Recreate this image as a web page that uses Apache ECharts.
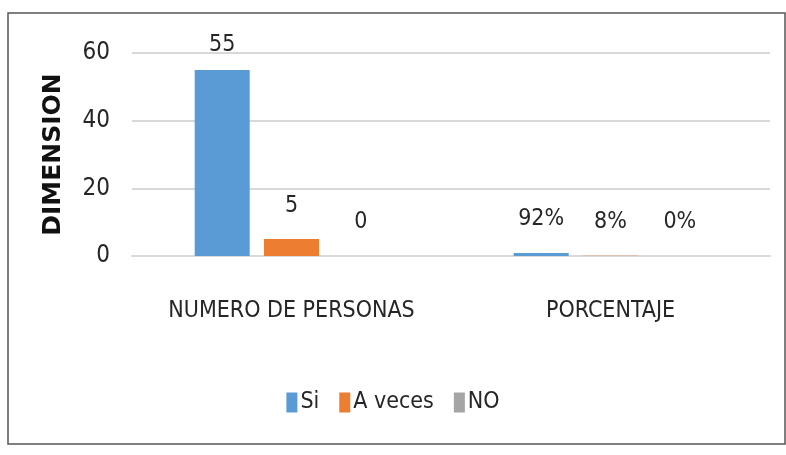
<!DOCTYPE html>
<html>
<head>
<meta charset="utf-8">
<script src="https://cdn.jsdelivr.net/npm/echarts@6/dist/echarts.min.js"></script>
<style>
  html, body { margin: 0; padding: 0; background: #fff; }
  #chart { width: 786px; height: 455px; }
</style>
</head>
<body>
<div id="chart"></div>
<script>
const categories = ['NUMERO DE PERSONAS', 'PORCENTAJE']
const seriesNames = ['Si', 'A veces', 'NO']
const siValues = [55, 0.92]
const aVecesValues = [5, 0.08]
const noValues = [0, 0]
const yTicks = [0, 20, 40, 60]

const colors = ['#5B9BD5', '#ED7D31', '#A5A5A5']
const font = "'Liberation Sans Narrow', 'DejaVu Sans Condensed', 'Roboto Condensed', Roboto, sans-serif"
const textColor = '#262626'

// second category holds fractions, shown as percentages
const fmt = (p) => (p.dataIndex === 1 ? Math.round(p.value * 100) + '%' : String(p.value))

const makeSeries = (name, values, i) => ({
  name: name,
  type: 'bar',
  // tall bar label sits a bit closer to the bar, like the original
  data: values.map((v) => (v > 40 ? { value: v, label: { distance: 13 } } : v)),
  barWidth: 55,
  barGap: '26%',
  itemStyle: { color: colors[i] },
  label: {
    show: true,
    position: 'top',
    distance: 22,
    formatter: fmt,
    color: textColor,
    fontFamily: font,
    fontSize: 23,
  },
})

const chart = echarts.init(document.getElementById('chart'), null, { renderer: 'canvas' })
chart.setOption({
  animation: false,
  backgroundColor: '#fff',
  grid: { left: 132, right: 16, top: 53, bottom: 199 },
  legend: {
    data: seriesNames,
    top: 386,
    left: 'center',
    itemWidth: 11,
    itemHeight: 20,
    itemGap: 20,
    icon: 'rect',
    textStyle: { color: textColor, fontFamily: font, fontSize: 23, padding: [0, 0, 0, -2] },
  },
  xAxis: {
    type: 'category',
    data: categories,
    axisTick: { show: false },
    axisLine: { lineStyle: { color: '#d9d9d9', width: 2 } },
    axisLabel: { interval: 0, color: textColor, fontFamily: font, fontSize: 23, margin: 44 },
  },
  yAxis: {
    type: 'value',
    min: yTicks[0],
    max: yTicks[yTicks.length - 1],
    interval: 20,
    name: 'DIMENSION',
    nameLocation: 'middle',
    nameRotate: 90,
    nameGap: 66,
    nameTextStyle: { color: '#111', fontFamily: 'DejaVu Sans', fontWeight: 'bold', fontSize: 25 },
    axisLabel: { color: textColor, fontFamily: font, fontSize: 24, margin: 22 },
    splitLine: { lineStyle: { color: '#d9d9d9', width: 2 } },
  },
  graphic: [
    {
      type: 'rect',
      shape: { x: 8, y: 13, width: 777, height: 431 },
      style: { fill: 'none', stroke: '#555', lineWidth: 1.5 },
      silent: true,
    },
  ],
  series: [
    makeSeries(seriesNames[0], siValues, 0),
    makeSeries(seriesNames[1], aVecesValues, 1),
    makeSeries(seriesNames[2], noValues, 2),
  ],
})
</script>
</body>
</html>
